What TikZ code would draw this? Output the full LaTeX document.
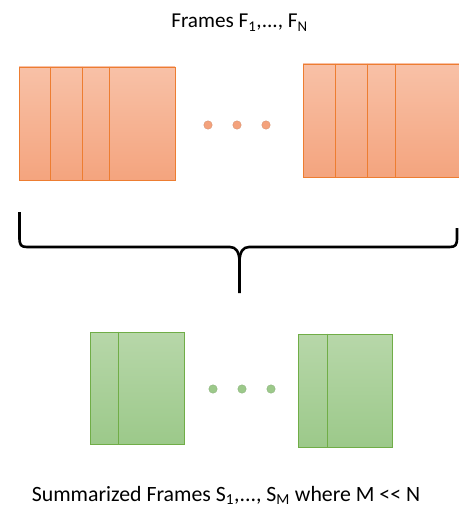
\documentclass[tikz,border=0pt]{standalone}
\usepackage{fontspec}
\setmainfont{Carlito}[Ligatures=TeXOff]
\definecolor{orline}{HTML}{ED7D31}
\definecolor{ortop}{HTML}{F8C1A7}
\definecolor{orbot}{HTML}{F4A47E}
\definecolor{ordot}{HTML}{F4A27C}
\definecolor{grline}{HTML}{70AD47}
\definecolor{grtop}{HTML}{B7D7A9}
\definecolor{grbot}{HTML}{9CC98A}
\definecolor{grdot}{HTML}{9CC98A}
\tikzset{
  orbox/.style={draw=orline, line width=0.9pt, top color=ortop, bottom color=orbot, inner sep=0pt},
  grbox/.style={draw=grline, line width=0.9pt, top color=grtop, bottom color=grbot, inner sep=0pt},
  orsep/.style={draw=orline, line width=0.9pt},
  grsep/.style={draw=grline, line width=0.9pt},
  ordotst/.style={circle, fill=ordot, draw=ordot!85!black, line width=0.3pt, minimum size=8.5pt, inner sep=0pt},
  grdotst/.style={circle, fill=grdot, draw=grdot!85!black, line width=0.3pt, minimum size=8.5pt, inner sep=0pt},
  lbltop/.style={font=\fontsize{21.2}{24}\selectfont, inner sep=0pt},
  lblbot/.style={font=\fontsize{21.8}{25}\selectfont, inner sep=0pt},
  bracest/.style={draw=black, line width=2.6pt, line cap=butt, line join=round}
}
\begin{document}
\begin{tikzpicture}[x=1pt,y=-1pt]
\useasboundingbox (0,0) rectangle (458,508);
% title
\node[lbltop, anchor=base] (title) at (239.5,28) {Frames F\textsubscript{1},..., F\textsubscript{N}};
% orange frames
\node[orbox, minimum width=156pt, minimum height=113pt] (f1) at (97,123.5) {};
\draw[orsep] ([xshift=32pt]f1.north west) -- ([xshift=32pt]f1.south west);
\draw[orsep] ([xshift=64pt]f1.north west) -- ([xshift=64pt]f1.south west);
\draw[orsep] ([xshift=91pt]f1.north west) -- ([xshift=91pt]f1.south west);
\node[orbox, minimum width=160pt, minimum height=113pt] (fn) at (383,120.5) {};
\draw[orsep] ([xshift=33pt]fn.north west) -- ([xshift=33pt]fn.south west);
\draw[orsep] ([xshift=65pt]fn.north west) -- ([xshift=65pt]fn.south west);
\draw[orsep] ([xshift=93pt]fn.north west) -- ([xshift=93pt]fn.south west);
\node[ordotst] (od1) at (208,125) {};
\node[ordotst] (od2) at (237,125) {};
\node[ordotst] (od3) at (266,125) {};
% brace
\coordinate (bl) at (19.5,212);
\coordinate (br) at (457,228);
\coordinate (bt) at (239.5,293);
\draw[bracest] (bl) -- (19.5,238) .. controls (19.5,245) and (21,247) .. (27,247)
  -- (230,247) .. controls (236,247) and (239.5,252) .. (239.5,262) -- (bt);
\draw[bracest] (br) -- (457,238) .. controls (457,245) and (455.5,247) .. (449.5,247)
  -- (249,247) .. controls (243,247) and (239.5,252) .. (239.5,262);
% green frames
\node[grbox, minimum width=94pt, minimum height=112pt] (s1) at (137,388) {};
\draw[grsep] ([xshift=29pt]s1.north west) -- ([xshift=29pt]s1.south west);
\node[grbox, minimum width=94pt, minimum height=113pt] (sm) at (345,390.5) {};
\draw[grsep] ([xshift=29.5pt]sm.north west) -- ([xshift=29.5pt]sm.south west);
\node[grdotst] (gd1) at (213,389) {};
\node[grdotst] (gd2) at (242,389) {};
\node[grdotst] (gd3) at (271,389) {};
% caption
\node[lblbot, anchor=base] (cap) at (226,501) {Summarized Frames S\textsubscript{1},..., S\textsubscript{M} where M << N};
\end{tikzpicture}
\end{document}
